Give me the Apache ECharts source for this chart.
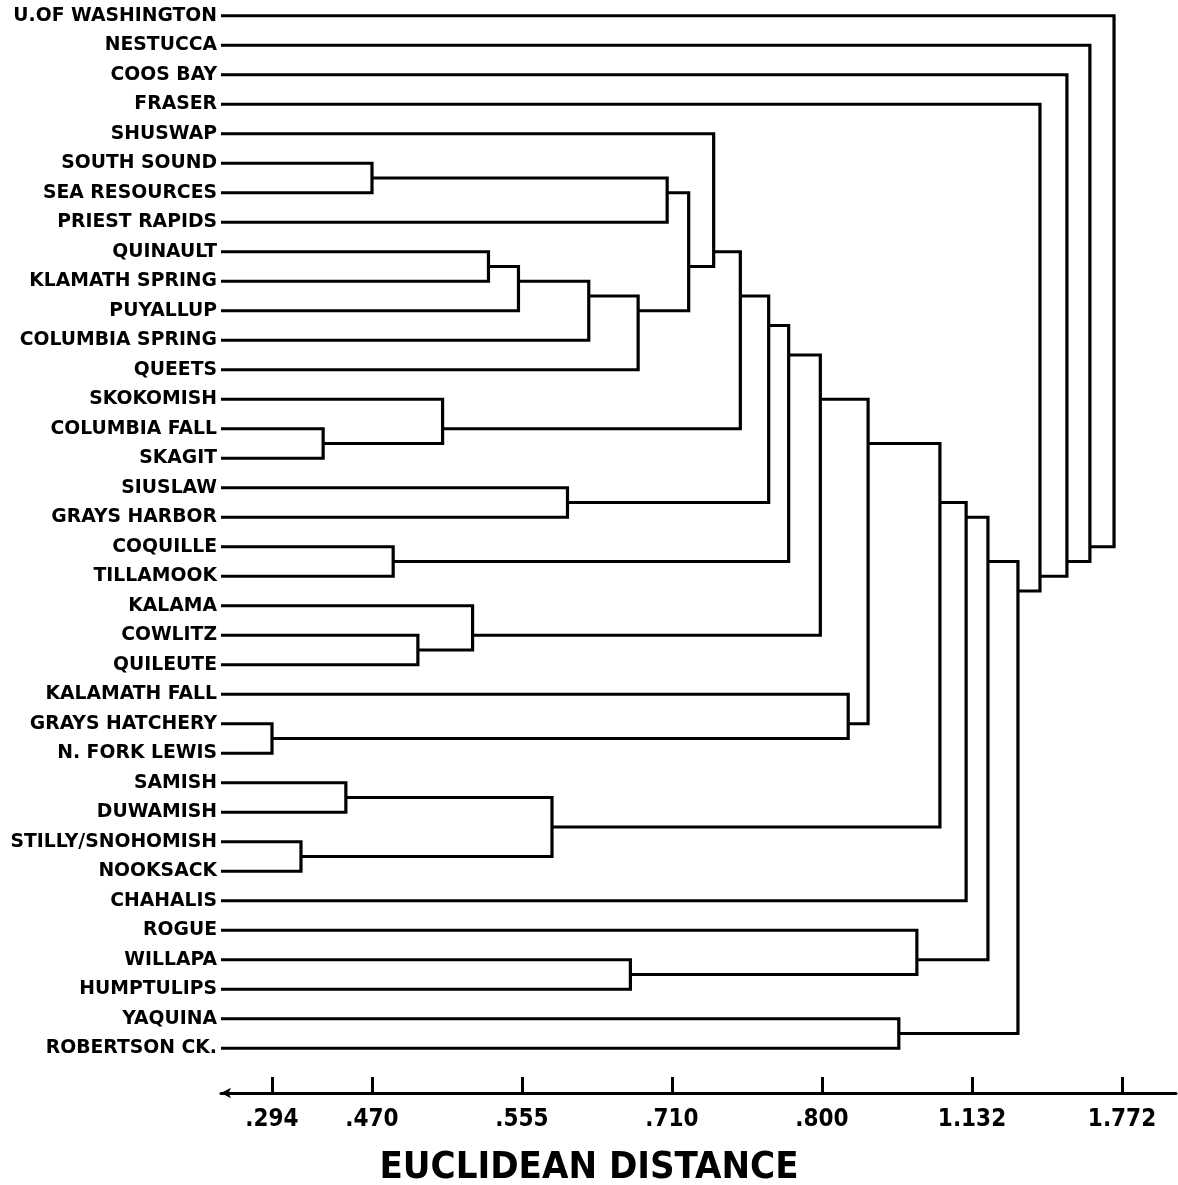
<!DOCTYPE html>
<html>
<head>
<meta charset="utf-8">
<script src="https://cdn.jsdelivr.net/npm/echarts@6/dist/echarts.min.js"></script>
<style>
  html, body { margin: 0; padding: 0; background: #fff; }
  #chart { width: 1178px; height: 1185px; }
</style>
</head>
<body>
<div id="chart"></div>
<script>
// Leaves, top to bottom
const leaves = [
  'U.OF WASHINGTON', 'NESTUCCA', 'COOS BAY', 'FRASER', 'SHUSWAP',
  'SOUTH SOUND', 'SEA RESOURCES', 'PRIEST RAPIDS', 'QUINAULT', 'KLAMATH SPRING',
  'PUYALLUP', 'COLUMBIA SPRING', 'QUEETS', 'SKOKOMISH', 'COLUMBIA FALL',
  'SKAGIT', 'SIUSLAW', 'GRAYS HARBOR', 'COQUILLE', 'TILLAMOOK',
  'KALAMA', 'COWLITZ', 'QUILEUTE', 'KALAMATH FALL', 'GRAYS HATCHERY',
  'N. FORK LEWIS', 'SAMISH', 'DUWAMISH', 'STILLY/SNOHOMISH', 'NOOKSACK',
  'CHAHALIS', 'ROGUE', 'WILLAPA', 'HUMPTULIPS', 'YAQUINA', 'ROBERTSON CK.'
];

// Merges in order: child A, child B, euclidean distance; numbers refer to earlier merges (1-based)
const mergeA = [
  'GRAYS HATCHERY', 'STILLY/SNOHOMISH', 'COLUMBIA FALL', 'SAMISH', 'SOUTH SOUND',
  'COQUILLE', 'COWLITZ', 'SKOKOMISH', 'KALAMA', 'QUINAULT',
  10, 4, 'SIUSLAW', 11, 'WILLAPA',
  14, 5, 17, 'SHUSWAP', 19,
  20, 21, 22, 'KALAMATH FALL', 23,
  'YAQUINA', 'ROGUE', 25, 28, 29,
  30, 'FRASER', 'COOS BAY', 'NESTUCCA', 'U.OF WASHINGTON'
];
const mergeB = [
  'N. FORK LEWIS', 'NOOKSACK', 'SKAGIT', 'DUWAMISH', 'SEA RESOURCES',
  'TILLAMOOK', 'QUILEUTE', 3, 7, 'KLAMATH SPRING',
  'PUYALLUP', 2, 'GRAYS HARBOR', 'COLUMBIA SPRING', 'HUMPTULIPS',
  'QUEETS', 'PRIEST RAPIDS', 16, 18, 8,
  13, 6, 9, 1, 24,
  'ROBERTSON CK.', 15, 12, 'CHAHALIS', 27,
  26, 31, 32, 33, 34
];
const mergeDist = [
  0.294, 0.345, 0.384, 0.424, 0.470,
  0.482, 0.496, 0.510, 0.527, 0.536,
  0.553, 0.586, 0.602, 0.624, 0.667,
  0.675, 0.705, 0.720, 0.735, 0.751,
  0.768, 0.780, 0.799, 0.858, 0.902,
  0.970, 1.010, 1.061, 1.119, 1.200,
  1.328, 1.422, 1.537, 1.635, 1.738
];

// Axis: the scale is drawn by merge order; ticks label the distance at given merge steps
const tickLabels = ['.294', '.470', '.555', '.710', '.800', '1.132', '1.772'];
const tickValues = [0.294, 0.470, 0.555, 0.710, 0.800, 1.132, 1.772];
const tickSteps = [1, 5, 11, 17, 23, 29, 35];

const X_MIN = -1.04, X_MAX = 37.16;

function distToStep(d) {
  const n = tickValues.length;
  let i = 0;
  if (d <= tickValues[0]) i = 0;
  else if (d >= tickValues[n - 1]) i = n - 2;
  else { while (d > tickValues[i + 1]) i++; }
  const t = (d - tickValues[i]) / (tickValues[i + 1] - tickValues[i]);
  return tickSteps[i] + t * (tickSteps[i + 1] - tickSteps[i]);
}

// Build node geometry
const nodes = {};
leaves.forEach((name, i) => { nodes[name] = { x: X_MIN, sum: i, n: 1 }; });
const mergeNodes = [];
function getNode(ref) { return typeof ref === 'number' ? mergeNodes[ref - 1] : nodes[ref]; }
const linkData = [];
for (let k = 0; k < mergeDist.length; k++) {
  const a = getNode(mergeA[k]), b = getNode(mergeB[k]);
  const node = { x: distToStep(mergeDist[k]), sum: a.sum + b.sum, n: a.n + b.n };
  mergeNodes.push(node);
  linkData.push([node.x, a.sum / a.n, b.sum / b.n, a.x, b.x]);
}

const chart = echarts.init(document.getElementById('chart'), null, { renderer: 'canvas' });
const narrow = "'Liberation Sans Narrow', 'DejaVu Sans Condensed', 'Liberation Sans', sans-serif";

chart.setOption({
  backgroundColor: '#fff',
  animation: false,
  title: {
    text: 'EUCLIDEAN DISTANCE',
    left: 'center',
    top: 1144,
    textStyle: { fontFamily: narrow, fontSize: 38, fontWeight: 'bold', color: '#000' }
  },
  grid: { left: 221, right: 2, top: 1, bottom: 122, containLabel: false },
  xAxis: {
    type: 'value',
    min: X_MIN,
    max: X_MAX,
    offset: 30,
    axisLine: {
      show: true, onZero: false,
      symbol: ['arrow', 'none'], symbolSize: [8, 10],
      lineStyle: { color: '#000', width: 3 }
    },
    axisTick: {
      show: true, inside: true, length: 16,
      customValues: tickSteps,
      lineStyle: { color: '#000', width: 3 }
    },
    axisLabel: {
      show: true,
      customValues: tickSteps,
      margin: 15,
      fontFamily: narrow, fontSize: 24, fontWeight: 'bold', color: '#000',
      formatter: v => { const i = tickSteps.indexOf(Math.round(v)); return i >= 0 ? tickLabels[i] : ''; }
    },
    splitLine: { show: false }
  },
  yAxis: [
    {
      type: 'category',
      data: leaves,
      inverse: true,
      axisLine: { show: false },
      axisTick: { show: false },
      axisLabel: {
        margin: 4,
        fontFamily: "'DejaVu Sans', sans-serif",
        fontWeight: 'bold',
        fontSize: 18.8,
        color: '#000'
      },
      splitLine: { show: false }
    },
    {
      type: 'value',
      min: -0.5,
      max: leaves.length - 0.5,
      inverse: true,
      show: false,
      splitLine: { show: false }
    }
  ],
  series: [{
    type: 'custom',
    yAxisIndex: 1,
    clip: false,
    encode: { x: 0, y: [1, 2] },
    data: linkData,
    renderItem: (params, api) => {
      const xm = api.value(0), ya = api.value(1), yb = api.value(2), xa = api.value(3), xb = api.value(4);
      const pts = [api.coord([xa, ya]), api.coord([xm, ya]), api.coord([xm, yb]), api.coord([xb, yb])];
      return {
        type: 'polyline',
        shape: { points: pts },
        style: { stroke: '#000', lineWidth: 3.2, fill: null, lineJoin: 'miter' }
      };
    }
  }]
});
</script>
</body>
</html>
